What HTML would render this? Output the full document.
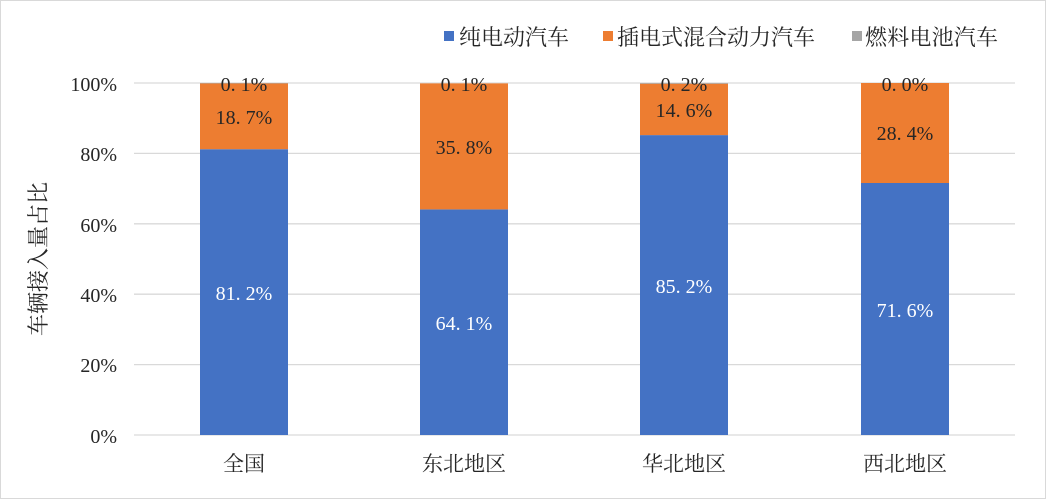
<!DOCTYPE html>
<html><head><meta charset="utf-8"><style>
html,body{margin:0;padding:0;background:#fff}
svg{display:block}
text{font-family:"Liberation Serif","Noto Serif CJK SC",serif;font-size:20px;fill:#262626}
.w{fill:#fff}
.lg{font-size:22px}
</style></head><body>
<svg width="1046" height="499" viewBox="0 0 1046 499">
<rect x="0.5" y="0.5" width="1045" height="498" fill="#fff" stroke="#d9d9d9"/>
<g stroke="#d9d9d9" stroke-width="1.3">
<line x1="134" x2="1015" y1="83" y2="83"/>
<line x1="134" x2="1015" y1="153.4" y2="153.4"/>
<line x1="134" x2="1015" y1="223.8" y2="223.8"/>
<line x1="134" x2="1015" y1="294.2" y2="294.2"/>
<line x1="134" x2="1015" y1="364.6" y2="364.6"/>
<line x1="134" x2="1015" y1="435" y2="435"/>
</g>
<g text-anchor="end">
<text x="117" y="91">100%</text>
<text x="117" y="161">80%</text>
<text x="117" y="232">60%</text>
<text x="117" y="302">40%</text>
<text x="117" y="372">20%</text>
<text x="117" y="443">0%</text>
</g>
<text transform="translate(46,259) rotate(-90)" text-anchor="middle" style="font-size:22px">车辆接入量占比</text>
<rect x="200" y="149.2" width="88" height="285.8" fill="#4472c4"/>
<rect x="200" y="83.4" width="88" height="65.8" fill="#ed7d31"/>
<rect x="200" y="83" width="88" height="0.4" fill="#a5a5a5"/>
<rect x="420" y="209.4" width="88" height="225.6" fill="#4472c4"/>
<rect x="420" y="83.4" width="88" height="126" fill="#ed7d31"/>
<rect x="640" y="135.1" width="88" height="299.9" fill="#4472c4"/>
<rect x="640" y="83.7" width="88" height="51.4" fill="#ed7d31"/>
<rect x="640" y="83" width="88" height="0.7" fill="#a5a5a5"/>
<rect x="861" y="183" width="88" height="252" fill="#4472c4"/>
<rect x="861" y="83" width="88" height="100" fill="#ed7d31"/>
<g text-anchor="middle">
<text x="244" y="91">0. 1%</text>
<text x="244" y="124">18. 7%</text>
<text class="w" x="244" y="300">81. 2%</text>
<text x="464" y="91">0. 1%</text>
<text x="464" y="154">35. 8%</text>
<text class="w" x="464" y="330">64. 1%</text>
<text x="684" y="91">0. 2%</text>
<text x="684" y="117">14. 6%</text>
<text class="w" x="684" y="293">85. 2%</text>
<text x="905" y="91">0. 0%</text>
<text x="905" y="140">28. 4%</text>
<text class="w" x="905" y="317">71. 6%</text>
<text x="244" y="471" style="font-size:21px">全国</text>
<text x="464" y="471" style="font-size:21px">东北地区</text>
<text x="684" y="471" style="font-size:21px">华北地区</text>
<text x="905" y="471" style="font-size:21px">西北地区</text>
</g>
<rect x="444" y="31" width="10" height="10" fill="#4472c4"/>
<text class="lg" x="459" y="45" textLength="110">纯电动汽车</text>
<rect x="603" y="31" width="10" height="10" fill="#ed7d31"/>
<text class="lg" x="617" y="45" textLength="198">插电式混合动力汽车</text>
<rect x="852" y="31" width="10" height="10" fill="#a5a5a5"/>
<text class="lg" x="865" y="45" textLength="133">燃料电池汽车</text>
</svg>
</body></html>
